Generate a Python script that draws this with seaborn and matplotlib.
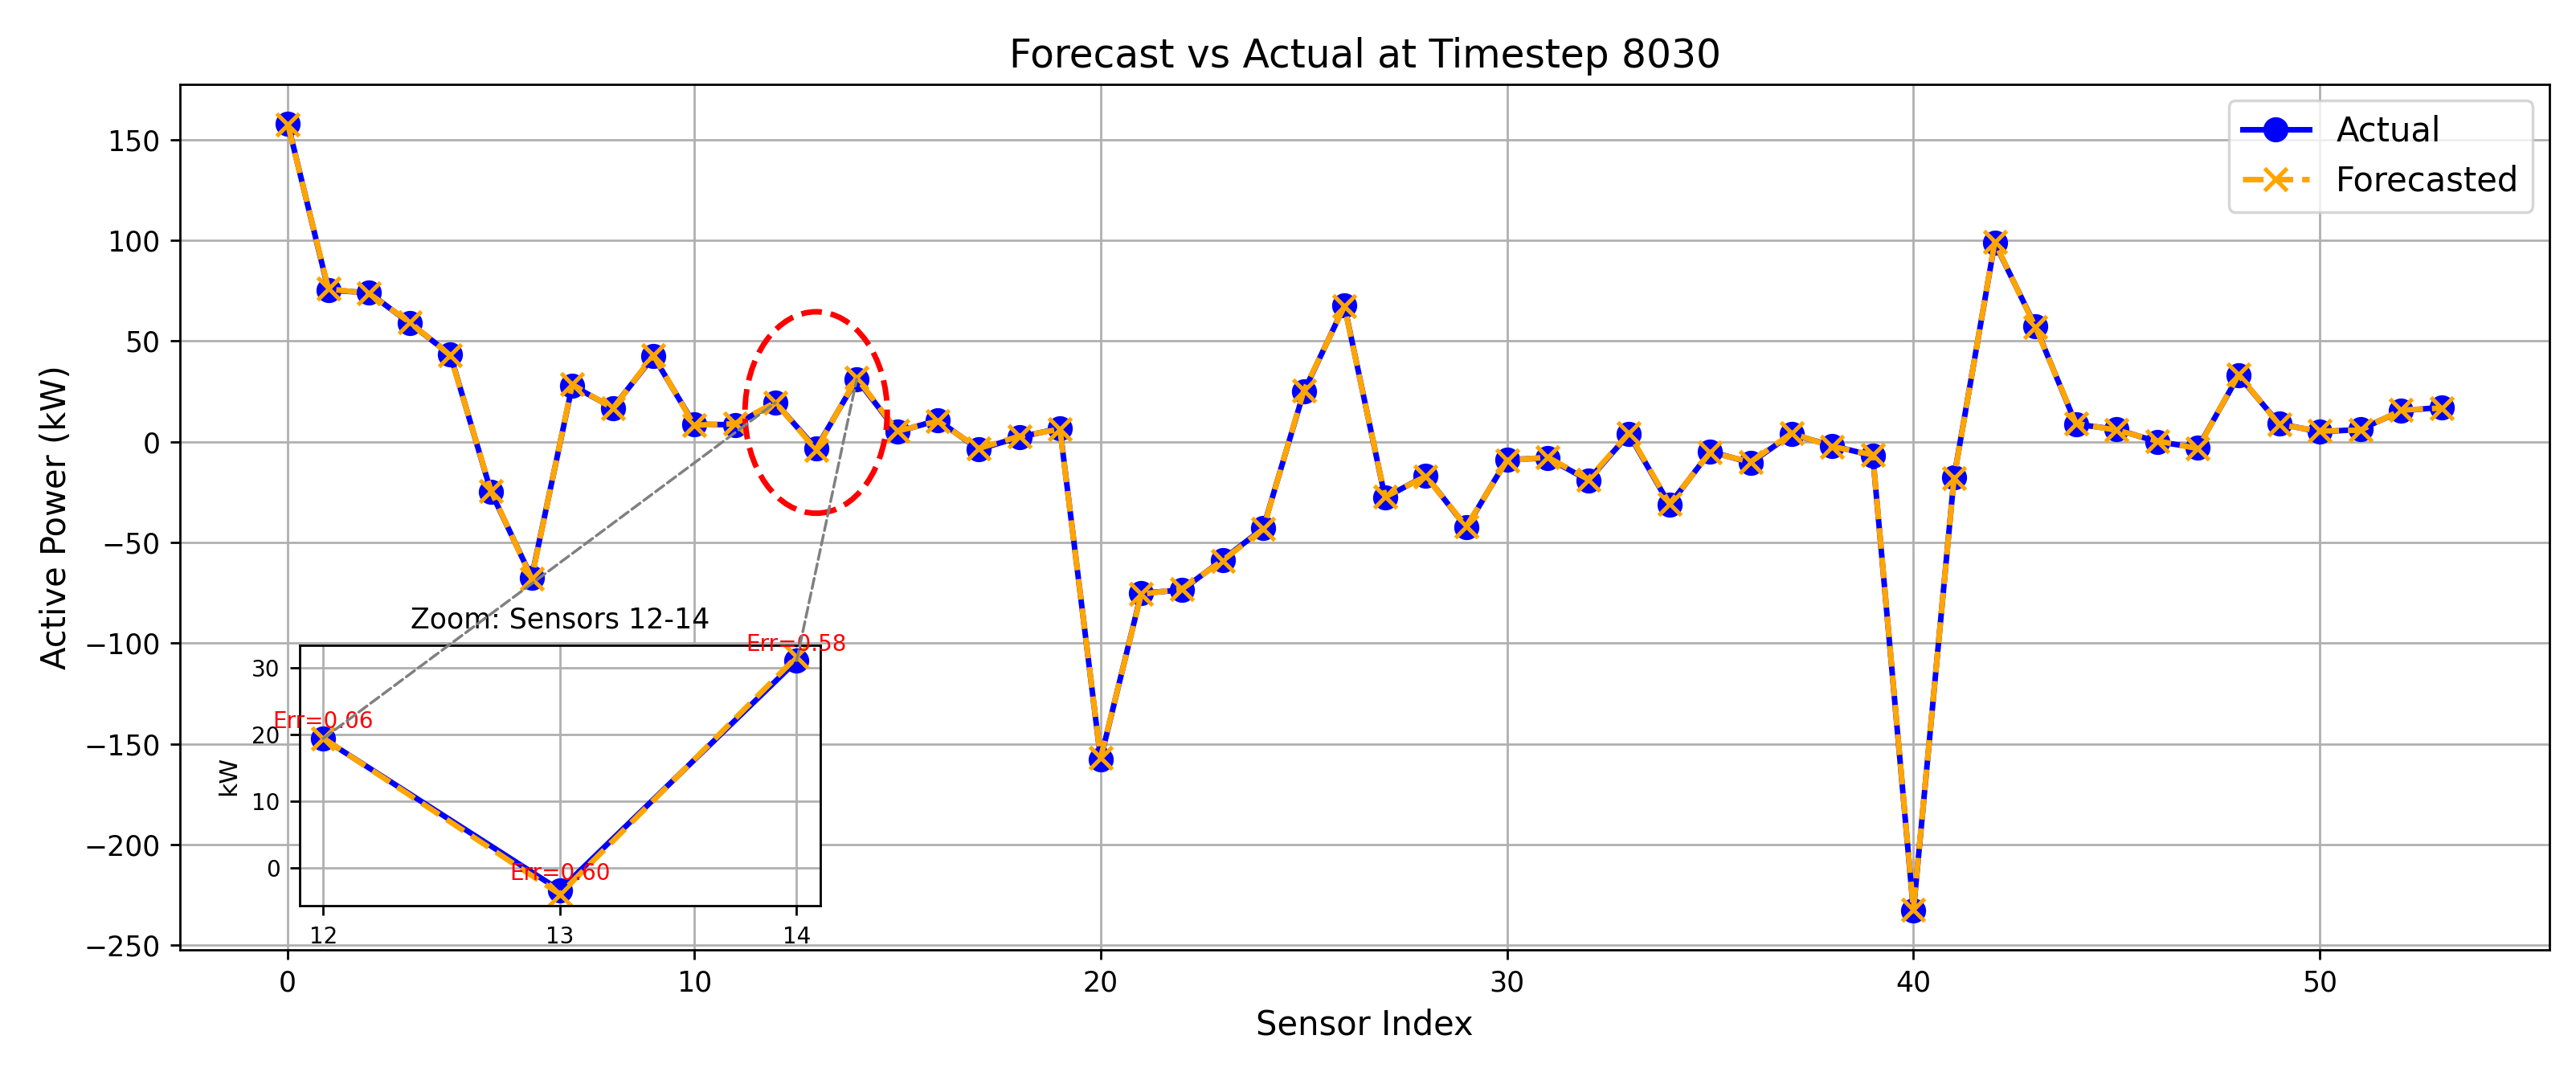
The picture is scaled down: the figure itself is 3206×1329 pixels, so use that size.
import numpy as np
import pandas as pd
import matplotlib
matplotlib.use("Agg")
import matplotlib.pyplot as plt
import seaborn as sns
from matplotlib.patches import Ellipse, ConnectionPatch

# values (timestep 8030)
sensor_idx = list(range(54))
actual = [158.0, 75.3, 73.9, 58.9, 43.2, -24.8, -67.4, 27.9, 16.8, 42.4,
          8.7, 8.4, 19.4, -3.4, 31.1, 4.9, 10.7, -3.8, 2.3, 6.6,
          -157.5, -75.2, -73.6, -58.6, -43.0, 24.8, 67.6, -27.8, -16.8, -42.5,
          -8.9, -8.1, -19.1, 3.8, -31.3, -4.9, -10.4, 3.8, -2.0, -6.9,
          -232.7, -17.6, 98.7, 57.4, 8.7, 6.1, 0.0, -3.0, 32.9, 8.9,
          4.9, 6.1, 15.3, 17.1]
forecast = [157.6, 75.9, 73.5, 59.3, 42.8, -24.3, -67.9, 28.4, 16.5, 42.9,
            8.2, 8.9, 19.46, -4.0, 31.68, 5.3, 10.2, -3.3, 2.7, 6.2,
            -157.0, -75.7, -73.1, -59.0, -43.4, 25.3, 67.2, -27.4, -17.2, -42.0,
            -9.3, -7.7, -18.7, 4.2, -30.9, -5.3, -10.0, 4.2, -2.4, -6.5,
            -232.2, -18.0, 99.1, 57.0, 9.1, 5.7, 0.4, -3.4, 33.3, 8.5,
            5.3, 5.7, 15.7, 16.7]

zoom_idx = [12, 13, 14]
timestep = 8030

df = pd.DataFrame({"Sensor": sensor_idx, "Actual": actual, "Forecasted": forecast})
dz = df[df["Sensor"].isin(zoom_idx)]

fig = plt.figure(figsize=(3206 / 250, 1329 / 250), dpi=250)
ax = fig.add_axes([0.0699, 0.1106, 0.9198, 0.8107])

sns.lineplot(data=df, x="Sensor", y="Actual", ax=ax, color="blue", marker="o",
             markersize=8, markeredgecolor="blue", markeredgewidth=1,
             linewidth=2, label="Actual")
sns.lineplot(data=df, x="Sensor", y="Forecasted", ax=ax, color="orange", marker="x",
             markersize=8, markeredgecolor="orange", markeredgewidth=1.5,
             linewidth=2, linestyle="--", label="Forecasted")

ax.set_title(f"Forecast vs Actual at Timestep {timestep}", fontsize=14)
ax.set_xlabel("Sensor Index", fontsize=12)
ax.set_ylabel("Active Power (kW)", fontsize=12)
ax.grid(True)
ax.legend(loc="upper right", fontsize=12)

# highlight the zoomed sensors
ell = Ellipse((13, 14.5), width=3.5, height=100, fill=False, edgecolor="red",
              linestyle="--", linewidth=2, zorder=3)
ax.add_patch(ell)

# inset
ax_in = ax.inset_axes([0.0504, 0.0507, 0.2198, 0.3014])
ax_in.set_facecolor("white")
sns.lineplot(data=dz, x="Sensor", y="Actual", ax=ax_in, color="blue", marker="o",
             markersize=8, markeredgecolor="blue", markeredgewidth=1,
             linewidth=2, legend=False)
sns.lineplot(data=dz, x="Sensor", y="Forecasted", ax=ax_in, color="orange", marker="x",
             markersize=8, markeredgecolor="orange", markeredgewidth=1.5,
             linewidth=2, linestyle="--", legend=False)
for _, row in dz.iterrows():
    err = abs(row["Actual"] - row["Forecasted"])
    ax_in.text(row["Sensor"], row["Actual"] + 0.8, f"Err={err:.2f}", color="red",
               fontsize=8, ha="center", va="bottom")
ax_in.set_xticks(zoom_idx)
ax_in.set_title("Zoom: Sensors 12-14", fontsize=10)
ax_in.set_xlabel("")
ax_in.set_ylabel("kW", fontsize=9)
ax_in.tick_params(labelsize=8)
ax_in.grid(True)

for s in [zoom_idx[0], zoom_idx[-1]]:
    a = df.loc[df["Sensor"] == s, "Actual"].iloc[0]
    con = ConnectionPatch(xyA=(s, a), coordsA=ax_in.transData,
                          xyB=(s, a), coordsB=ax.transData,
                          color="gray", linestyle="--", linewidth=1)
    fig.add_artist(con)

fig.savefig("out.png", dpi=250)
